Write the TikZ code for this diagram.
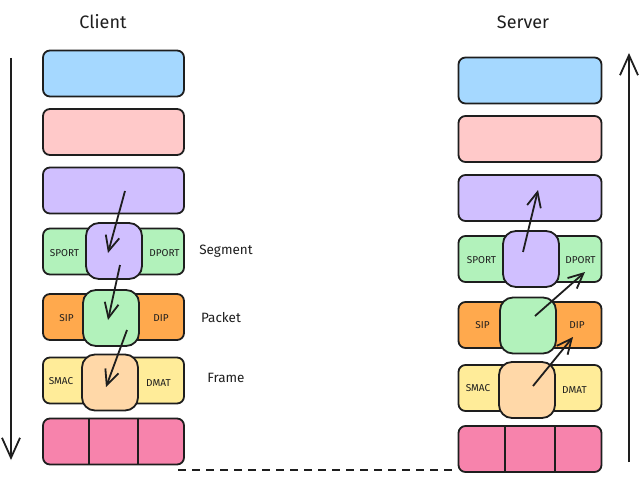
\documentclass[tikz,border=0pt]{standalone}
\usepackage{fontspec}
\setmainfont{Fira Sans}
\usepackage{tikz}
\usetikzlibrary{arrows.meta}

\definecolor{ink}{HTML}{1E1E1E}
\definecolor{appblue}{HTML}{A5D8FF}
\definecolor{presred}{HTML}{FFC9C9}
\definecolor{sessviolet}{HTML}{D0BFFF}
\definecolor{tcpgreen}{HTML}{B2F2BB}
\definecolor{iporange}{HTML}{FFA94D}
\definecolor{macyellow}{HTML}{FFEC99}
\definecolor{framepeach}{HTML}{FFD8A8}
\definecolor{phypink}{HTML}{F783AC}

\begin{document}
\begin{tikzpicture}[x=1pt, y=-1pt, ->, >={Straight Barb[length=15pt, width=14pt]}, line width=1.8pt, color=ink,
		layer/.style={draw, rounded corners=7pt, minimum width=141pt, minimum height=46pt, inner sep=0pt},
		pdu/.style={draw, rounded corners=13pt, minimum size=56pt, inner sep=0pt},
		field/.style={font=\fontsize{10}{11}\selectfont},
		title/.style={font=\fontsize{18}{20}\selectfont},
		side/.style={font=\fontsize{13.5}{15}\selectfont}]
		\useasboundingbox (0, 0) rectangle (640, 484);

		% client stack
		\node[title] (client) at (103, 22) {Client};
		\node[layer, fill=appblue] (c1) at (113.5, 73.5) {};
		\node[layer, fill=presred] (c2) at (113.5, 132) {};
		\node[layer, fill=sessviolet] (c3) at (113.5, 190.5) {};
		\node[layer, fill=tcpgreen] (c4) at (113.5, 251.5) {};
		\node[layer, fill=iporange] (c5) at (113.5, 317) {};
		\node[layer, fill=macyellow] (c6) at (113.5, 380.5) {};
		\node[layer, fill=phypink] (c7) at (113.5, 441.5) {};
		\draw[-] ([xshift=47pt]c7.north west) -- ([xshift=47pt]c7.south west);
		\draw[-] ([xshift=-47pt]c7.north east) -- ([xshift=-47pt]c7.south east);

		\node[pdu, fill=sessviolet] (cseg) at (114, 251) {};
		\node[pdu, fill=tcpgreen] (cpkt) at (111, 318) {};
		\node[pdu, fill=framepeach] (cfrm) at (110, 382.5) {};

		\node[field] (csport) at (64.5, 253) {SPORT};
		\node[field] (cdport) at (164.5, 253) {DPORT};
		\node[field] (csip) at (66.5, 318) {SIP};
		\node[field] (cdip) at (161, 318) {DIP};
		\node[field] (csmac) at (61, 381) {SMAC};
		\node[field] (cdmat) at (158.5, 383) {DMAT};

		\node[side] (segment) at (226, 251) {Segment};
		\node[side] (packet) at (221, 318) {Packet};
		\node[side] (frame) at (226, 378) {Frame};

		\coordinate (ca1) at (125, 191);
		\coordinate (cb1) at (108, 253);
		\coordinate (ca2) at (120, 265);
		\coordinate (cb2) at (108, 320);
		\coordinate (ca3) at (127, 330);
		\coordinate (cb3) at (106, 387);
		\draw (ca1) -- (cb1);
		\draw (ca2) -- (cb2);
		\draw (ca3) -- (cb3);

		\coordinate (cdown1) at (11, 58);
		\coordinate (cdown2) at (11, 460);
		\draw[>={Straight Barb[length=20pt, width=18pt]}] (cdown1) -- (cdown2);

		% server stack
		\node[title] (server) at (523, 22) {Server};
		\node[layer, minimum width=143pt, fill=appblue] (s1) at (530, 80.5) {};
		\node[layer, minimum width=143pt, fill=presred] (s2) at (530, 139) {};
		\node[layer, minimum width=143pt, fill=sessviolet] (s3) at (530, 198) {};
		\node[layer, minimum width=143pt, fill=tcpgreen] (s4) at (530, 259) {};
		\node[layer, minimum width=143pt, fill=iporange] (s5) at (530, 325) {};
		\node[layer, minimum width=143pt, fill=macyellow] (s6) at (530, 388) {};
		\node[layer, minimum width=143pt, fill=phypink] (s7) at (530, 449) {};
		\draw[-] ([xshift=47.5pt]s7.north west) -- ([xshift=47.5pt]s7.south west);
		\draw[-] ([xshift=-47.5pt]s7.north east) -- ([xshift=-47.5pt]s7.south east);

		\node[pdu, fill=sessviolet] (sseg) at (531, 259) {};
		\node[pdu, fill=tcpgreen] (spkt) at (528, 325.5) {};
		\node[pdu, fill=framepeach] (sfrm) at (527, 390) {};

		\node[field] (ssport) at (481.5, 260) {SPORT};
		\node[field] (sdport) at (580.5, 260) {DPORT};
		\node[field] (ssip) at (482.5, 325) {SIP};
		\node[field] (sdip) at (577, 325) {DIP};
		\node[field] (ssmac) at (478, 388) {SMAC};
		\node[field] (sdmat) at (574.5, 390) {DMAT};

		\coordinate (sa1) at (523, 252);
		\coordinate (sb1) at (538, 190);
		\coordinate (sa2) at (535, 316);
		\coordinate (sb2) at (585, 272);
		\coordinate (sa3) at (533, 386);
		\coordinate (sb3) at (573, 337);
		\draw (sa1) -- (sb1);
		\draw (sa2) -- (sb2);
		\draw (sa3) -- (sb3);

		\coordinate (sup1) at (629, 462);
		\coordinate (sup2) at (629, 53);
		\draw[>={Straight Barb[length=20pt, width=18pt]}] (sup1) -- (sup2);

		% link between the two hosts
		\coordinate (wire1) at (178, 470);
		\coordinate (wire2) at (455, 470);
		\draw[-, dash pattern=on 8pt off 6pt] (wire1) -- (wire2);
	\end{tikzpicture}
\end{document}
